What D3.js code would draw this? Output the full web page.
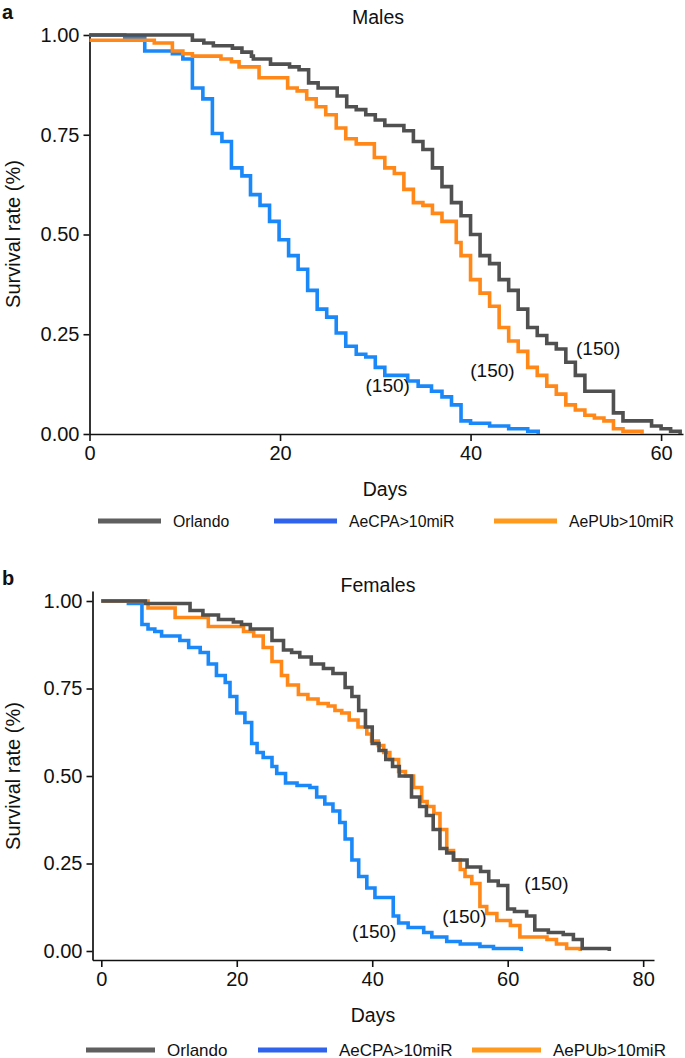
<!DOCTYPE html>
<html>
<head>
<meta charset="utf-8">
<script src="https://cdn.jsdelivr.net/npm/d3@7"></script>
<style>
  body { margin: 0; background: #fff; }
  svg { display: block; font-family: "Liberation Sans", Arial, Helvetica, sans-serif; }
</style>
</head>
<body>
<svg id="chart" width="685" height="1058"></svg>
<script>
// groups, same order in both panels
const groups = ["Orlando", "AeCPA>10miR", "AePUb>10miR"];
const groupN = [150, 150, 150];

// males: [day, survival]
const maleOrlando = [[0,1],[10.8,0.987],[12,0.98],[13,0.973],[15,0.967],[16,0.957],[17,0.947],[17.2,0.94],[19,0.927],[21,0.92],[22,0.913],[23,0.88],[24,0.867],[26,0.847],[27,0.82],[28,0.813],[29,0.8],[30,0.787],[31,0.773],[33,0.76],[34,0.733],[35,0.713],[36,0.667],[37,0.62],[38,0.58],[39,0.547],[40,0.5],[41,0.447],[42,0.427],[43,0.387],[44,0.36],[45,0.313],[46,0.267],[47,0.247],[48,0.227],[49,0.213],[50,0.18],[51,0.147],[52,0.107],[55,0.053],[56,0.033],[59,0.02],[60,0.013],[61,0.007],[62,0]];
const maleAeCPA = [[0,1],[3.7,0.993],[5.8,0.96],[8.7,0.953],[9.8,0.94],[10.8,0.867],[11.9,0.84],[12.9,0.753],[13.9,0.733],[14.9,0.667],[16,0.647],[16.9,0.6],[17.9,0.573],[18.9,0.533],[19.9,0.487],[20.9,0.447],[21.9,0.413],[22.9,0.36],[23.9,0.313],[24.9,0.293],[25.9,0.253],[26.9,0.22],[28,0.2],[29,0.193],[30,0.167],[31,0.147],[33.4,0.133],[34.5,0.12],[35.9,0.107],[37,0.093],[38,0.073],[39,0.033],[40,0.027],[42,0.02],[44,0.013],[46,0.007],[47.1,0]];
const maleAePUb = [[0,0.987],[6.8,0.98],[8.7,0.96],[9.8,0.953],[10.8,0.947],[13.8,0.94],[14.9,0.933],[15.7,0.92],[17.8,0.893],[20.8,0.867],[21.8,0.86],[22.8,0.84],[23.8,0.82],[24.8,0.8],[25.9,0.767],[26.9,0.74],[28,0.727],[29.9,0.693],[31,0.667],[32,0.653],[33,0.613],[34,0.58],[35,0.573],[36,0.553],[37,0.533],[38.5,0.48],[39,0.447],[40,0.387],[41,0.353],[42,0.32],[43,0.267],[44,0.233],[45,0.207],[46,0.167],[47,0.147],[48,0.12],[49,0.1],[50,0.073],[51,0.06],[52,0.047],[53,0.04],[54,0.033],[55,0.013],[56,0.007],[58,0]];

// females: [day, survival]
const femaleOrlando = [[0,1],[6.5,0.993],[13.1,0.973],[15,0.96],[17.3,0.947],[19.5,0.94],[20.7,0.933],[22,0.92],[25.2,0.887],[26.9,0.86],[28.1,0.853],[29.3,0.84],[31,0.82],[32.8,0.807],[34.2,0.793],[36,0.753],[37,0.727],[38,0.687],[39,0.64],[40,0.593],[41,0.573],[42,0.547],[43,0.527],[44,0.5],[45.8,0.44],[47,0.413],[48,0.387],[49,0.347],[50,0.293],[51,0.28],[52,0.26],[54,0.24],[56,0.227],[57.2,0.2],[58.6,0.187],[60,0.12],[61,0.113],[62.8,0.1],[64,0.06],[66,0.053],[68.2,0.047],[69.7,0.033],[71,0.007],[75,0]];
const femaleAeCPA = [[0,1],[4,0.993],[6,0.933],[6.9,0.92],[7.9,0.913],[8.9,0.9],[11.6,0.887],[12.9,0.867],[14.6,0.853],[15.8,0.82],[17,0.787],[18.3,0.767],[19,0.727],[20,0.68],[21.2,0.653],[22.2,0.593],[23,0.567],[23.9,0.553],[25.2,0.527],[25.9,0.507],[27.2,0.48],[28.9,0.473],[30.8,0.467],[31.8,0.44],[33,0.42],[34.2,0.4],[35.2,0.367],[36,0.32],[37,0.26],[38,0.213],[39.2,0.18],[40.4,0.153],[43.1,0.1],[43.9,0.08],[45.3,0.067],[47.6,0.053],[48.8,0.04],[51,0.027],[53,0.02],[55.9,0.013],[57.9,0.007],[62,0]];
const femaleAePUb = [[0,1],[6.9,0.98],[10.9,0.953],[15.8,0.927],[21,0.913],[22.5,0.9],[23.9,0.867],[25.2,0.827],[26.6,0.787],[27.5,0.76],[29.1,0.733],[30.5,0.72],[32,0.707],[33.5,0.7],[34.5,0.687],[35.5,0.68],[36.6,0.66],[37.9,0.64],[39.2,0.62],[39.9,0.6],[40.9,0.587],[41.7,0.567],[42.6,0.547],[43.9,0.513],[44.9,0.5],[46.1,0.467],[47.3,0.427],[48.1,0.413],[49.1,0.393],[50,0.347],[51,0.287],[52,0.26],[53,0.233],[53.7,0.213],[54.7,0.193],[55.9,0.127],[56.9,0.107],[58.4,0.087],[60.4,0.073],[61.8,0.04],[65.8,0.033],[67.2,0.02],[68.7,0.007],[70.7,0]];

// "(150)" label anchors in data units: [day, survival]
const maleLabelAt = [[53.4,0.215],[31.3,0.121],[42.3,0.16]];
const femaleLabelAt = [[65.7,0.194],[40.3,0.055],[53.6,0.098]];

const yTicks = [0, 0.25, 0.5, 0.75, 1];
const maleXTicks = [0, 20, 40, 60];
const femaleXTicks = [0, 20, 40, 60, 80];

const curveColors = ["#505050", "#1a88f8", "#ff8818"];
const legendColors = ["#5f5f5f", "#2f63ee", "#ff9a1c"];
const drawOrder = [1, 2, 0]; // blue under orange under grey

const svg = d3.select("#chart");

function drawPanel(opt) {
  const { x, y, series, xTicks, labelAt } = opt;
  const g = svg.append("g");

  // y axis
  const yAxis = g.append("g")
    .attr("transform", `translate(${opt.yAxisX},0)`)
    .call(d3.axisLeft(y).tickValues(yTicks).tickFormat(d3.format(".2f")).tickSize(6).tickSizeOuter(0).tickPadding(4));
  // x axis
  const xAxis = g.append("g")
    .attr("transform", `translate(0,${opt.xAxisY})`)
    .call(d3.axisBottom(x).tickValues(xTicks).tickSize(7).tickSizeOuter(0).tickPadding(5));

  [yAxis, xAxis].forEach((ax) => {
    ax.select(".domain").attr("stroke", "#111").attr("stroke-width", 1.7);
    ax.selectAll(".tick line").attr("stroke", "#111").attr("stroke-width", 1.6);
    ax.selectAll(".tick text")
      .attr("fill", "#111")
      .style("font-size", "20px")
      .style("font-family", '"Liberation Sans", Arial, sans-serif');
  });

  // survival curves
  const line = d3.line()
    .x((d) => x(d[0]))
    .y((d) => y(d[1]))
    .curve(d3.curveStepAfter);

  drawOrder.forEach((i) => {
    g.append("path")
      .datum(series[i])
      .attr("fill", "none")
      .attr("stroke", curveColors[i])
      .attr("stroke-width", 3.6)
      .attr("stroke-linejoin", "miter")
      .attr("d", line);
  });

  // n labels
  labelAt.forEach((p, i) => {
    g.append("text")
      .attr("x", x(p[0]))
      .attr("y", y(p[1]))
      .attr("text-anchor", "middle")
      .attr("dominant-baseline", "central")
      .attr("font-size", 19)
      .attr("fill", "#111")
      .text(`(${groupN[i]})`);
  });

  // title
  g.append("text")
    .attr("x", opt.titleX)
    .attr("y", opt.titleY)
    .attr("text-anchor", "middle")
    .attr("dominant-baseline", "central")
    .attr("font-size", 19.5)
    .attr("fill", "#111")
    .text(opt.title);

  // panel letter
  g.append("text")
    .attr("x", 2)
    .attr("y", opt.letterY)
    .attr("font-size", 20)
    .attr("font-weight", "bold")
    .attr("fill", "#111")
    .text(opt.letter);

  // axis titles
  g.append("text")
    .attr("transform", `translate(13,${opt.yTitleY}) rotate(-90)`)
    .attr("text-anchor", "middle")
    .attr("dominant-baseline", "central")
    .attr("font-size", 20)
    .attr("fill", "#111")
    .text("Survival rate (%)");

  g.append("text")
    .attr("x", opt.xTitleX)
    .attr("y", opt.xTitleY)
    .attr("text-anchor", "middle")
    .attr("dominant-baseline", "central")
    .attr("font-size", 19.5)
    .attr("fill", "#111")
    .text("Days");

  // legend
  const lg = g.append("g").attr("transform", `translate(0,${opt.legendY})`);
  groups.forEach((name, i) => {
    const lx = opt.legendX[i];
    lg.append("line")
      .attr("x1", lx).attr("x2", lx + opt.keyLen)
      .attr("y1", 0).attr("y2", 0)
      .attr("stroke", legendColors[i])
      .attr("stroke-width", 5);
    lg.append("text")
      .attr("x", lx + opt.keyLen + 12)
      .attr("y", 0)
      .attr("dominant-baseline", "central")
      .attr("font-size", opt.legendFont)
      .attr("fill", "#111")
      .text(name);
  });
}

// panel a: males
drawPanel({
  series: [maleOrlando, maleAeCPA, maleAePUb],
  x: d3.scaleLinear().domain([0, 62.3]).range([89.5, 683]),
  y: d3.scaleLinear().domain([0, 1.005]).range([434, 33]),
  xTicks: maleXTicks,
  labelAt: maleLabelAt,
  yAxisX: 89.5,
  xAxisY: 434,
  title: "Males", titleX: 378, titleY: 17,
  letter: "a", letterY: 19,
  yTitleY: 234,
  xTitleX: 385, xTitleY: 489,
  legendY: 521,
  legendX: [98, 274, 494],
  keyLen: 63,
  legendFont: 15.8
});

// panel b: females
drawPanel({
  series: [femaleOrlando, femaleAeCPA, femaleAePUb],
  x: d3.scaleLinear().domain([-1.3, 81.6]).range([92.5, 654]),
  y: d3.scaleLinear().domain([-0.0257, 1.0286]).range([960, 591]),
  xTicks: femaleXTicks,
  labelAt: femaleLabelAt,
  yAxisX: 92.5,
  xAxisY: 960,
  title: "Females", titleX: 378, titleY: 585,
  letter: "b", letterY: 585,
  yTitleY: 776,
  xTitleX: 373, xTitleY: 1015,
  legendY: 1050,
  legendX: [86, 258, 472],
  keyLen: 69,
  legendFont: 17
});
</script>
</body>
</html>
